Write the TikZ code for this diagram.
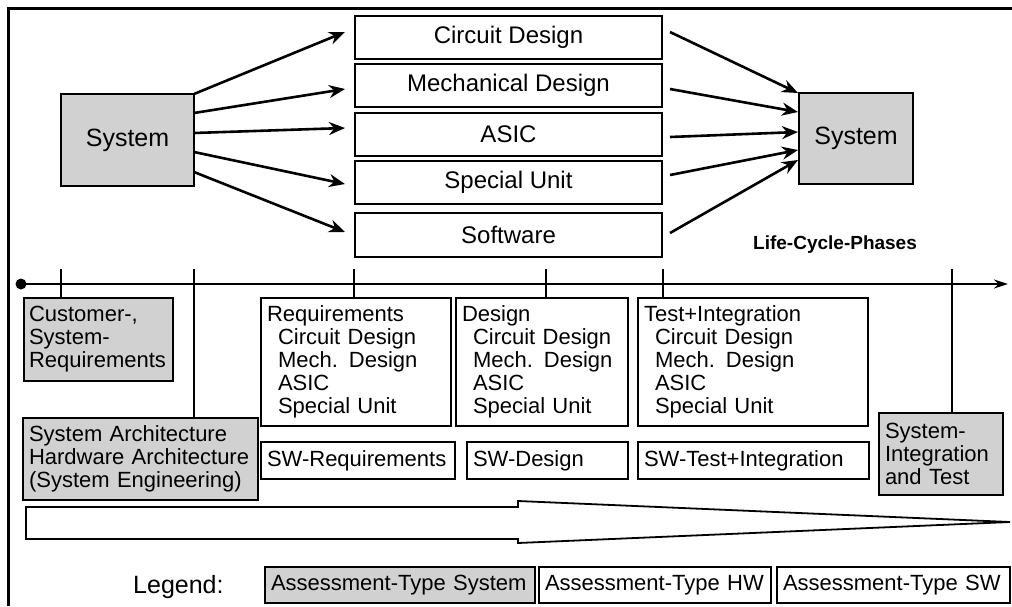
\documentclass[tikz,border=0pt]{standalone}
\usepackage{fontspec}
\setmainfont{Liberation Sans}
\usetikzlibrary{arrows.meta,calc}
\newcommand{\lcind}{\hspace*{11pt}}
\tikzset{
  frm/.style={draw, line width=1.6pt, rectangle, inner ysep=0pt, inner xsep=6pt, outer sep=0pt, anchor=north west},
  graybox/.style={frm, fill=black!18},
  whitebox/.style={frm, fill=white},
  big/.style={font=\fontsize{24}{28}\selectfont},
  sysfont/.style={font=\fontsize{25}{28}\selectfont},
  small/.style={font=\fontsize{22}{23}\selectfont},
  flow/.style={line width=2.6pt, -{Stealth[length=16pt,width=13pt]}},
  tick/.style={line width=1.4pt},
}
\begin{document}
\begin{tikzpicture}[x=1pt,y=-1pt]
\useasboundingbox (0,0) rectangle (1012,606);
% outer frame (top and left)
\draw[line width=3pt] (8.5,606) -- (8.5,8.5) -- (1012,8.5);

% components
\node[whitebox, big, align=center, minimum width=307pt, minimum height=43pt] (cd) at (355,16) {Circuit Design};
\node[whitebox, big, align=center, minimum width=307pt, minimum height=43pt] (md) at (355,64) {Mechanical Design};
\node[whitebox, big, align=center, minimum width=307pt, minimum height=43pt] (asic) at (355,113) {ASIC};
\node[whitebox, big, align=center, minimum width=307pt, minimum height=43pt] (su) at (355,161) {Special Unit};
\node[whitebox, big, align=center, minimum width=307pt, minimum height=44pt] (sw) at (355,213) {Software};

% systems
\node[graybox, sysfont, align=center, minimum width=133pt, minimum height=92pt] (sysL) at (61,94) {System};
\node[graybox, sysfont, align=center, minimum width=114pt, minimum height=91pt] (sysR) at (799,93) {System};

% decomposition arrows
\draw[flow] (sysL.north east) -- ([xshift=-10pt,yshift=5.5pt]cd.west);
\draw[flow] ([yshift=-19pt]sysL.north east) -- ([xshift=-10pt,yshift=-3.5pt]md.west);
\draw[flow] ([yshift=-39pt]sysL.north east) -- ([xshift=-10pt,yshift=6.5pt]asic.west);
\draw[flow] ([yshift=-58pt]sysL.north east) -- ([xshift=-10pt,yshift=-1.5pt]su.west);
\draw[flow] ([yshift=-78pt]sysL.north east) -- ([xshift=-10pt,yshift=3pt]sw.west);

% integration arrows
\draw[flow] ([xshift=8pt,yshift=5.5pt]cd.east) -- ([xshift=-1pt]sysR.north west);
\draw[flow] ([xshift=8pt,yshift=-3.5pt]md.east) -- ([xshift=-1pt,yshift=-19pt]sysR.north west);
\draw[flow] ([xshift=8pt,yshift=-2.5pt]asic.east) -- ([xshift=-1pt,yshift=-39pt]sysR.north west);
\draw[flow] ([xshift=8pt,yshift=7.5pt]su.east) -- ([xshift=-1pt,yshift=-57pt]sysR.north west);
\draw[flow] ([xshift=8pt,yshift=2pt]sw.east) -- ([xshift=-1pt,yshift=-67pt]sysR.north west);

\node[font=\fontsize{19}{22}\selectfont\bfseries, anchor=base west, inner sep=0pt] (lcp) at (753,249) {Life-Cycle-Phases};

% time line
\node[circle, fill, inner sep=0pt, minimum size=11pt] (t0) at (21,284) {};
\coordinate (tend) at (1008,284);
\draw[line width=1.4pt, -{Stealth[length=14pt,width=9pt]}] (t0.center) -- (tend);

% phase boxes
\node[graybox, small, text width=139pt, align=left, minimum height=83pt, inner xsep=5pt] (cust) at (24,298) {Customer-,\\System-\\Requirements};
\node[graybox, small, text width=223pt, align=left, minimum height=82pt] (arch) at (23,418) {System Architecture\\Hardware Architecture\\(System Engineering)};
\node[whitebox, small, text width=178pt, align=left, minimum height=128pt] (req) at (261,298) {Requirements\\\lcind Circuit Design\\\lcind Mech. Design\\\lcind ASIC\\\lcind Special Unit};
\node[whitebox, small, text width=160pt, align=left, minimum height=128pt] (des) at (456,298) {Design\\\lcind Circuit Design\\\lcind Mech. Design\\\lcind ASIC\\\lcind Special Unit};
\node[whitebox, small, text width=218pt, align=left, minimum height=128pt] (tst) at (638,298) {Test+Integration\\\lcind Circuit Design\\\lcind Mech. Design\\\lcind ASIC\\\lcind Special Unit};
\node[whitebox, small, text width=182pt, align=left, minimum height=37pt] (swreq) at (261,442) {SW-Requirements};
\node[whitebox, small, text width=149pt, align=left, minimum height=37pt] (swdes) at (467,442) {SW-Design};
\node[whitebox, small, text width=219pt, align=left, minimum height=37pt] (swtst) at (638,442) {SW-Test+Integration};
\node[graybox, small, text width=112pt, align=left, minimum height=82pt] (sint) at (879,413) {System-\\Integration\\and Test};

% ticks from the time line down to the phases
\coordinate (k1) at (61,269);
\coordinate (k2) at (194,269);
\coordinate (k3) at (354,269);
\coordinate (k4) at (546,269);
\coordinate (k5) at (663,269);
\coordinate (k6) at (952,269);
\draw[tick] (k1) -- (k1 |- cust.north);
\draw[tick] (k2) -- (k2 |- arch.north);
\draw[tick] (k3) -- (k3 |- req.north);
\draw[tick] (k4) -- (k4 |- des.north);
\draw[tick] (k5) -- (k5 |- tst.north);
\draw[tick] (k6) -- (k6 |- sint.north);

% broad process arrow
\draw[line width=1.8pt, fill=white, line join=miter] (26,507) -- (518,507) -- (518,501) -- (1010,522) -- (518,543) -- (518,539) -- (26,539) -- cycle;

% legend
\node[font=\fontsize{25}{28}\selectfont, anchor=base west, inner sep=0pt] (leg) at (133,593) {Legend:};
\node[graybox, small, text width=258pt, align=left, minimum height=36pt] (lsys) at (265,567) {Assessment-Type System};
\node[whitebox, small, text width=220pt, align=left, minimum height=36pt] (lhw) at (539,567) {Assessment-Type HW};
\node[whitebox, small, text width=221pt, align=left, minimum height=36pt] (lsw) at (777,567) {Assessment-Type SW};
\end{tikzpicture}
\end{document}
